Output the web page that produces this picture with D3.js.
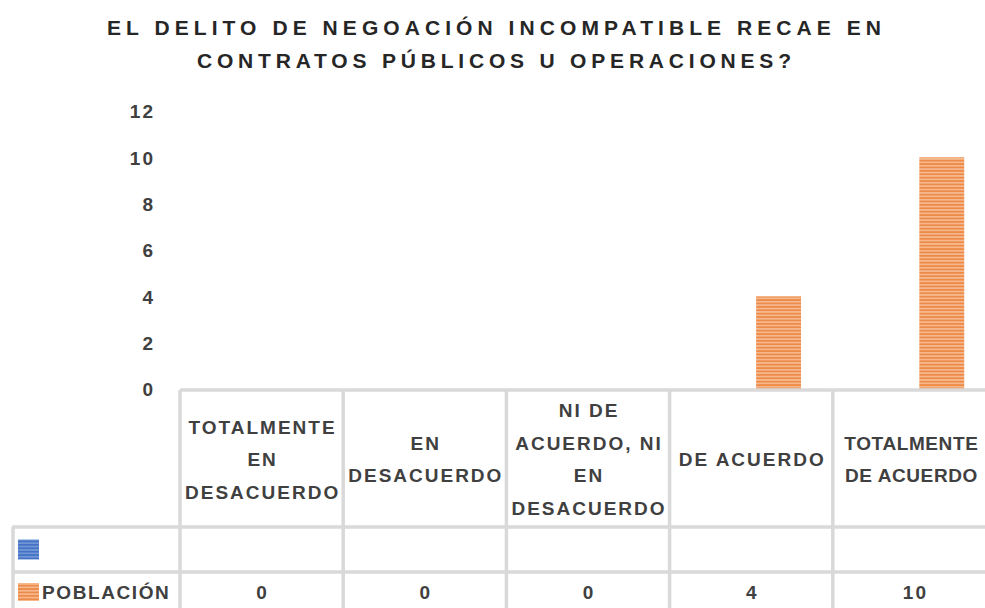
<!DOCTYPE html>
<head>
    <meta charset="utf-8">
    <script src="https://d3js.org/d3.v7.min.js"></script>
    <style>
        html, body {
            margin: 0;
            padding: 0;
            background: #fff;
        }
        svg {
            display: block;
            font-family: "Liberation Sans", Arial, sans-serif;
        }
        .title {
            font-weight: bold;
            font-size: 21px;
            fill: #262626;
        }
        .lbl {
            font-weight: bold;
            font-size: 19px;
            letter-spacing: 2px;
            fill: #404040;
        }
        .grid {
            stroke: #d9d9d9;
            stroke-width: 3.5;
        }
    </style>
</head>
<body>
    <svg id="chart" width="985" height="608"></svg>
    <script>
        // data
        var titleLines = ["EL DELITO DE NEGOACIÓN INCOMPATIBLE RECAE EN", "CONTRATOS PÚBLICOS U OPERACIONES?"];
        var categories = ["TOTALMENTE\nEN\nDESACUERDO", "EN\nDESACUERDO", "NI DE\nACUERDO, NI\nEN\nDESACUERDO", "DE ACUERDO", "TOTALMENTE\nDE ACUERDO"];
        var seriesNames = ["", "POBLACIÓN"];
        var serieVacia = [null, null, null, null, null];
        var poblacion = [0, 0, 0, 4, 10];
        var yTicks = [0, 2, 4, 6, 8, 10, 12];

        var seriesValues = [serieVacia, poblacion];
        var seriesColors = [["#4472c4", "#7196d6"], ["#ee8a47", "#f5b88e"]];

        var svg = d3.select("#chart");

        // stripe patterns
        var defs = svg.append("defs");
        seriesColors.forEach(function(c, i) {
            var p = defs.append("pattern")
                .attr("id", "stripe" + i)
                .attr("patternUnits", "userSpaceOnUse")
                .attr("width", 8).attr("height", 3.4);
            p.append("rect").attr("width", 8).attr("height", 3.4).attr("fill", c[1]);
            p.append("rect").attr("width", 8).attr("height", 1.7).attr("fill", c[0]);
        });

        // title
        svg.selectAll("text.title")
            .data(titleLines).enter()
            .append("text")
            .attr("class", "title")
            .attr("x", 494)
            .attr("y", function(d, i) { return 35 + i * 33; })
            .attr("text-anchor", "middle")
            .attr("textLength", function(d, i) { return i === 0 ? 774 : 594; })
            .attr("lengthAdjust", "spacing")
            .text(function(d) { return d; });

        // scales
        var x = d3.scaleBand()
            .domain(categories)
            .range([180, 996]);

        var x1 = d3.scaleBand()
            .domain(seriesNames)
            .range([0, x.bandwidth()])
            .paddingInner(0.18)
            .paddingOuter(0.58);

        var y = d3.scaleLinear()
            .domain([0, 12])
            .range([389, 111]);

        // y axis labels (no line, no ticks)
        var yAxis = svg.append("g")
            .attr("transform", "translate(155,0)")
            .call(d3.axisLeft(y).tickValues(yTicks).tickSize(0).tickPadding(0));
        yAxis.select(".domain").remove();
        yAxis.selectAll("text")
            .attr("class", "lbl")
            .attr("dy", "0.36em")
            .style("font-family", "Liberation Sans, Arial, sans-serif");

        // bars
        seriesValues.forEach(function(vals, s) {
            svg.append("g").selectAll("rect")
                .data(vals.map(function(v, i) { return {cat: categories[i], v: v}; })
                    .filter(function(d) { return d.v; }))
                .enter().append("rect")
                .attr("x", function(d) { return x(d.cat) + x1(seriesNames[s]); })
                .attr("width", x1.bandwidth())
                .attr("y", function(d) { return y(d.v); })
                .attr("height", function(d) { return y(0) - y(d.v); })
                .attr("fill", "url(#stripe" + s + ")");
        });

        // data table
        var rowTop = 527, rowMid = 572, bottom = 620;
        var g = svg.append("g");
        g.append("line").attr("class", "grid")
            .attr("x1", 180).attr("x2", 1000).attr("y1", y(0) + 1).attr("y2", y(0) + 1);
        g.append("line").attr("class", "grid")
            .attr("x1", 12).attr("x2", 1000).attr("y1", rowTop).attr("y2", rowTop);
        g.append("line").attr("class", "grid")
            .attr("x1", 12).attr("x2", 1000).attr("y1", rowMid).attr("y2", rowMid);
        g.append("line").attr("class", "grid")
            .attr("x1", 13).attr("x2", 13).attr("y1", rowTop).attr("y2", bottom);
        g.selectAll("line.v")
            .data(categories.concat(["end"])).enter()
            .append("line").attr("class", "grid v")
            .attr("x1", function(d, i) { return 180 + i * x.bandwidth(); })
            .attr("x2", function(d, i) { return 180 + i * x.bandwidth(); })
            .attr("y1", y(0) + 1).attr("y2", bottom);

        // category headers
        var lineH = 32.5, headMid = 459;
        categories.forEach(function(c, ci) {
            var lines = c.split("\n");
            var t = svg.append("text")
                .attr("class", "lbl")
                .attr("text-anchor", "middle");
            // last column is cut by the frame: keep it just inside
            if (ci === categories.length - 1) t.style("letter-spacing", "0.6px");
            lines.forEach(function(l, i) {
                t.append("tspan")
                    .attr("x", x(c) + x.bandwidth() / 2 + (ci === categories.length - 1 ? -3 : 1))
                    .attr("y", headMid + (i - (lines.length - 1) / 2) * lineH + 7)
                    .text(l);
            });
        });

        // legend keys and values
        var rowsY = [549.5, 592];
        seriesNames.forEach(function(name, s) {
            svg.append("rect")
                .attr("x", 18).attr("y", rowsY[s] - (s === 0 ? 10 : 9))
                .attr("width", 21).attr("height", s === 0 ? 20 : 18)
                .attr("fill", "url(#stripe" + s + ")");
            svg.append("text")
                .attr("class", "lbl")
                .attr("x", 42).attr("y", rowsY[s] + 7)
                .style("letter-spacing", "1.6px")
                .text(name);
            svg.append("g").selectAll("text")
                .data(seriesValues[s].filter(function(v) { return v !== null; }).map(function(v, i) { return {v: v, cat: categories[i]}; }))
                .enter().append("text")
                .attr("class", "lbl")
                .attr("text-anchor", "middle")
                .attr("x", function(d) { return x(d.cat) + x.bandwidth() / 2 + 1; })
                .attr("y", rowsY[s] + 7)
                .text(function(d) { return d.v; });
        });
    </script>
</body>
